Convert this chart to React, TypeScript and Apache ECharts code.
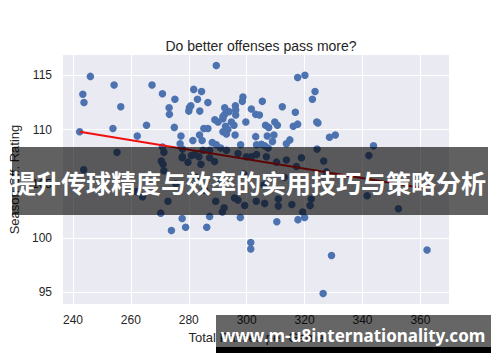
import React, { useEffect, useRef } from "react";
import * as echarts from "echarts";

const title = "Do better offenses pass more?";
const xName = "Total Passes per Game";
const yName = "Season Off. Rating";
const xTicks = [240, 260, 280, 300, 320, 340, 360];
const yTicks = [95, 100, 105, 110, 115];

const passes = [
  246.0, 254.2, 243.4, 243.8, 256.5, 267.3, 270.9, 275.2, 273.2, 273.3,
  242.3, 253.8, 265.4, 262.2, 275.0, 277.3, 277.0, 255.2, 270.9, 271.4,
  277.7, 279.7, 270.5, 271.1, 271.4, 243.7,
  289.5, 317.6, 320.1, 281.7, 284.4, 283.0, 286.6, 280.7, 280.2, 280.0,
  283.8, 298.7, 298.5, 305.4, 312.3, 296.1, 296.2, 296.2, 292.4, 293.9,
  292.4, 291.8, 301.6, 303.1, 304.4, 316.8, 323.6, 322.7, 299.7, 295.6,
  296.0, 285.2, 286.6, 283.7, 281.4, 284.6, 303.1, 306.5, 307.6, 309.7,
  310.6, 307.1, 309.4, 308.9, 316.1, 317.6, 313.7, 314.9, 324.2, 303.4,
  305.1, 306.2, 297.9, 288.1, 289.5, 291.0, 307.4,
  290.1, 291.8, 292.7, 291.8, 293.5, 294.7, 289.0, 293.0,
  324.6, 328.6, 330.6, 343.8, 342.2, 324.3, 326.6, 327.5,
  270.3, 272.8, 277.7, 278.9, 274.0, 264.0, 262.0, 287.2, 286.2, 297.8,
  301.4, 301.4, 310.4, 317.7, 320.0, 319.3, 289.3, 291.6, 292.2, 299.3,
  310.9, 310.9, 315.6, 321.9, 322.3, 295.8, 297.0, 303.3, 306.2, 329.3,
  326.4, 362.3, 352.4, 341.6,
  277.8, 277.8, 280.9, 282.0, 283.5, 284.2, 284.9, 287.2, 287.2, 288.9,
  293.0, 297.0, 299.9, 301.6, 303.4, 306.8, 310.3, 313.7, 317.2, 318.9,
  282.5, 291.0, 299.0, 306.0, 313.0, 285.5, 275.5,
];
const rating = [
  114.9, 114.1, 113.25, 112.5, 112.1, 114.1, 113.3, 112.8, 112.0, 111.4,
  109.8, 110.1, 110.4, 109.4, 110.2, 109.4, 108.7, 107.9, 108.4, 107.9,
  107.4, 107.0, 107.1, 106.8, 106.2, 106.3,
  115.9, 114.8, 115.0, 113.7, 113.5, 112.8, 112.5, 112.2, 112.0, 111.7,
  111.7, 113.0, 112.6, 112.6, 112.1, 112.2, 111.8, 111.35, 112.0, 111.65,
  111.4, 111.0, 111.9, 111.4, 111.35, 111.6, 113.5, 112.8, 110.7, 110.4,
  109.5, 110.1, 110.1, 109.5, 109.0, 109.0, 109.35, 110.4, 110.2, 110.7,
  110.4, 109.4, 109.5, 108.9, 110.3, 110.5, 108.7, 109.05, 110.7, 108.6,
  108.65, 108.5, 108.6, 108.8, 108.6, 108.3, 108.3,
  110.7, 111.2, 110.3, 109.8, 110.0, 110.7, 110.9, 109.6,
  110.6, 109.3, 109.5, 108.5, 107.6, 108.2, 107.1, 106.1,
  102.3, 103.4, 101.8, 101.0, 100.7, 103.8, 104.3, 102.0, 101.0, 101.9,
  99.6, 99.0, 101.5, 101.7, 101.9, 102.4, 103.4, 102.4, 102.8, 103.0,
  102.95, 103.6, 103.1, 103.0, 103.6, 103.7, 103.5, 103.4, 103.2, 98.4,
  94.9, 98.9, 102.7, 103.9,
  108.2, 107.5, 107.6, 107.7, 107.5, 106.8, 108.1, 108.1, 107.4, 107.05,
  108.1, 107.8, 107.5, 107.5, 107.7, 107.5, 107.0, 107.2, 106.6, 107.4,
  105.6, 105.2, 105.9, 104.9, 105.6, 104.4, 105.0,
];
const fitX = [242.3, 362.3];
const fitY = [109.8, 104.55];

const bannerText = "提升传球精度与效率的实用技巧与策略分析";
const watermarkText = "www.m-u8internationality.com";

export default function App() {
  const ref = useRef<HTMLDivElement>(null);
  useEffect(() => {
    if (!ref.current) return;
    const chart = echarts.init(ref.current, null, { renderer: "svg" });
    const font = "'Liberation Sans', Arial, sans-serif";
    const pts = passes.map((x, i) => [x, rating[i]]);
    chart.setOption({
      animation: false,
      backgroundColor: "#ffffff",
      title: {
        text: title,
        left: 256,
        top: 34,
        textAlign: "center",
        textStyle: { fontSize: 14, fontWeight: "normal", color: "#262626", fontFamily: font },
      },
      grid: {
        left: 63,
        top: 55,
        width: 386,
        height: 249,
        show: true,
        backgroundColor: "#EAEAF2",
        borderWidth: 0,
      },
      xAxis: {
        type: "value",
        min: 236.55,
        max: 369.88,
        name: xName,
        nameLocation: "middle",
        nameGap: 27,
        nameTextStyle: { fontSize: 13, color: "#262626", fontFamily: font },
        axisLine: { show: false },
        axisTick: { show: false, customValues: xTicks },
        axisLabel: { customValues: xTicks, margin: 10, fontSize: 12, color: "#262626", fontFamily: font },
        splitLine: { show: true, lineStyle: { color: "#ffffff", width: 1 } },
      },
      yAxis: {
        type: "value",
        min: 93.93,
        max: 116.87,
        name: yName,
        nameLocation: "middle",
        nameGap: 39,
        nameRotate: 90,
        nameTextStyle: { fontSize: 13, color: "#262626", fontFamily: font },
        axisLine: { show: false },
        axisTick: { show: false, customValues: yTicks },
        axisLabel: { customValues: yTicks, margin: 11, fontSize: 12, color: "#262626", fontFamily: font },
        splitLine: { show: true, lineStyle: { color: "#ffffff", width: 1 } },
      },
      series: [
        {
          type: "scatter",
          data: pts,
          symbolSize: 7.5,
          itemStyle: { color: "#4C72B0", opacity: 1 },
          z: 2,
        },
        {
          type: "line",
          data: fitX.map((x, i) => [x, fitY[i]]),
          symbol: "none",
          lineStyle: { color: "#f01010", width: 2 },
          z: 3,
        },
      ],
      graphic: [
        {
          type: "rect",
          shape: { x: 12, y: 147, width: 476, height: 68 },
          style: { fill: "rgba(0,0,0,0.62)" },
          z: 100,
        },
        {
          type: "text",
          x: 248.5,
          y: 182,
          style: {
            text: bannerText,
            fill: "#ffffff",
            font: "bold 25px 'Noto Sans CJK SC', sans-serif",
            align: "center",
            verticalAlign: "middle",
          },
          z: 101,
        },
        {
          type: "rect",
          shape: { x: 216, y: 315, width: 275, height: 32 },
          style: { fill: "rgba(0,0,0,0.6)" },
          z: 100,
        },
        {
          type: "rect",
          shape: { x: 216, y: 347, width: 275, height: 6 },
          style: { fill: "#000000" },
          z: 100,
        },
        {
          type: "text",
          x: 353,
          y: 335,
          style: {
            text: watermarkText,
            fill: "#ffffff",
            font: "bold 17px 'Noto Sans', sans-serif",
            align: "center",
            verticalAlign: "middle",
          },
          z: 101,
        },
      ],
    });
    return () => chart.dispose();
  }, []);
  return (
    <div
      ref={ref}
      style={{ position: "fixed", left: 0, top: 0, width: 500, height: 362 }}
    />
  );
}
